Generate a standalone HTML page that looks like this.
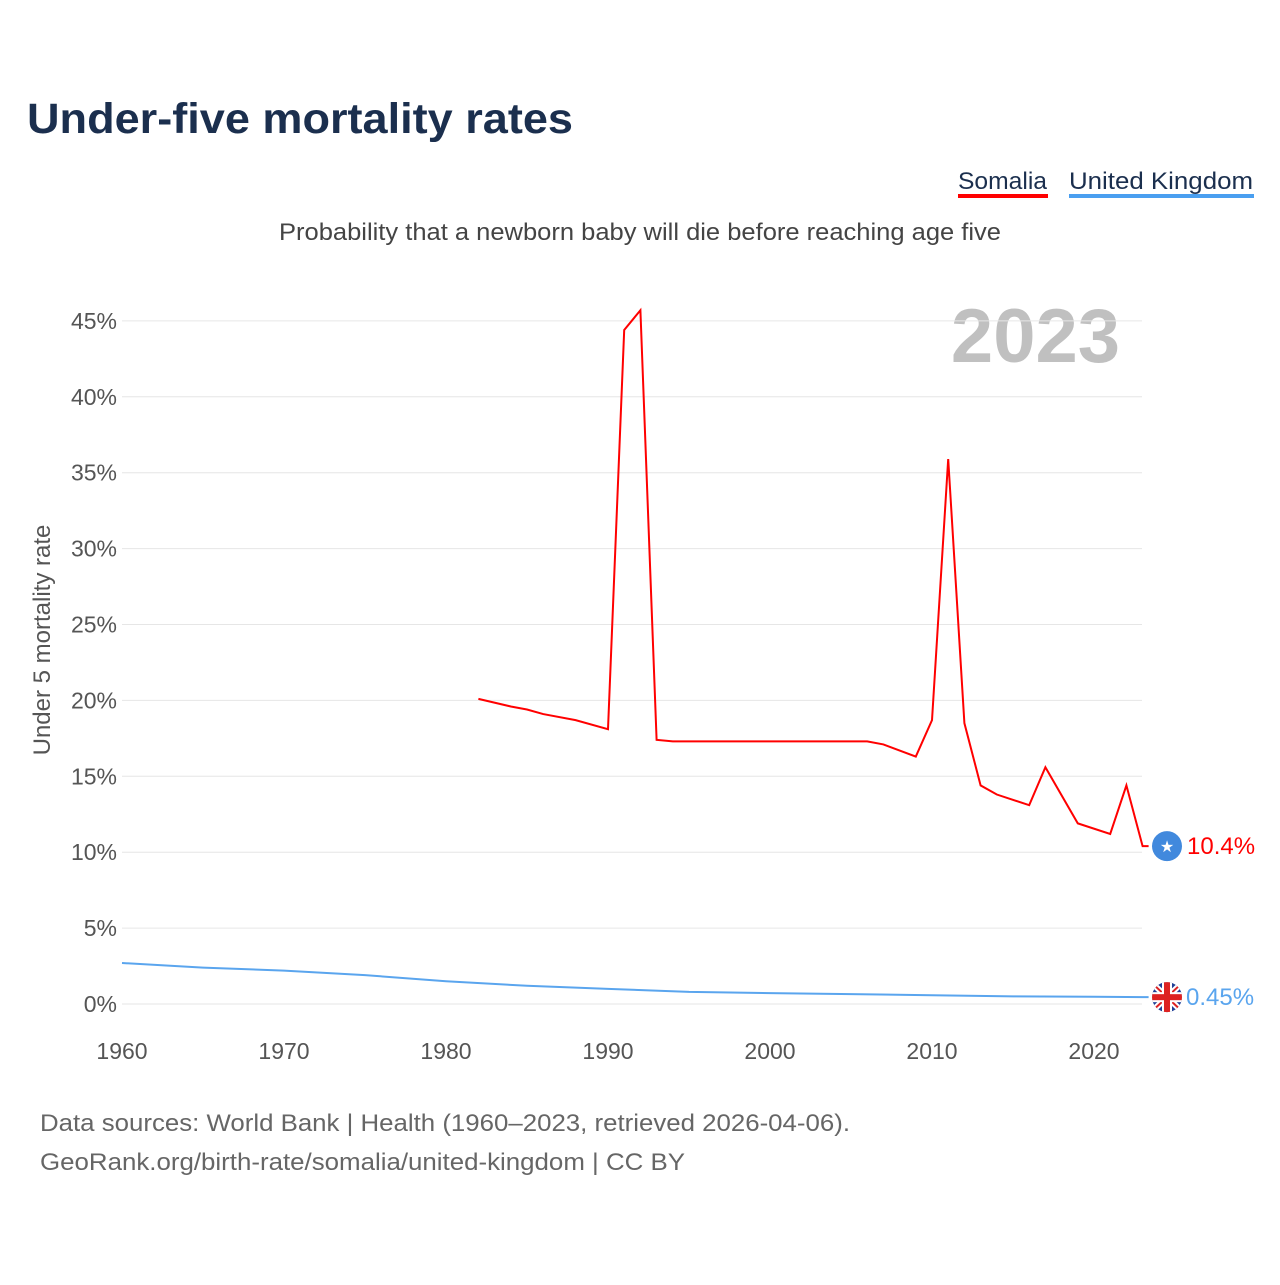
<!DOCTYPE html>
<html><head><meta charset="utf-8"><style>
body{margin:0;background:#fff;width:1280px;height:1280px;overflow:hidden;font-family:"Liberation Sans",sans-serif}
</style></head><body>
<svg id="chart" width="1280" height="1280" xmlns="http://www.w3.org/2000/svg" font-family="Liberation Sans, sans-serif">
<text x="27" y="133" font-size="43" font-weight="bold" fill="#1b2f4e" textLength="546" lengthAdjust="spacingAndGlyphs">Under-five mortality rates</text>
<g>
<text x="958" y="189" font-size="24" fill="#1b2f4e" textLength="89" lengthAdjust="spacingAndGlyphs">Somalia</text>
<rect x="958" y="194" width="90" height="4" fill="#ff0000"/>
<text x="1069" y="189" font-size="24" fill="#1b2f4e" textLength="184" lengthAdjust="spacingAndGlyphs">United Kingdom</text>
<rect x="1069" y="194" width="185" height="4" fill="#4a9ff0"/>
</g>
<text x="279" y="240" font-size="24" fill="#444" textLength="722" lengthAdjust="spacingAndGlyphs">Probability that a newborn baby will die before reaching age five</text>
<text x="1120" y="362" font-size="76" font-weight="bold" fill="#c0c0c0" text-anchor="end">2023</text>
<text transform="translate(50,640) rotate(-90)" font-size="24" fill="#555" text-anchor="middle">Under 5 mortality rate</text>
<g id="grid"></g><g id="yt"></g><g id="xt"></g><g id="lines"></g><g id="ends"></g>
<text x="40" y="1131" font-size="24" fill="#666" textLength="810" lengthAdjust="spacingAndGlyphs">Data sources: World Bank | Health (1960–2023, retrieved 2026-04-06).</text>
<text x="40" y="1170" font-size="24" fill="#666" textLength="645" lengthAdjust="spacingAndGlyphs">GeoRank.org/birth-rate/somalia/united-kingdom | CC BY</text>
</svg>
<script>
const yTicks=[0,5,10,15,20,25,30,35,40,45];
const xTicks=[1960,1970,1980,1990,2000,2010,2020];
const somYears=[1982,1984,1985,1986,1988,1990,1991,1992,1993,1994,2006,2007,2009,2010,2011,2012,2013,2014,2016,2017,2019,2021,2022,2023];
const somVals=[20.1,19.6,19.4,19.1,18.7,18.1,44.4,45.7,17.4,17.3,17.3,17.1,16.3,18.7,35.9,18.5,14.4,13.8,13.1,15.6,11.9,11.2,14.4,10.4];
const ukYears=[1960,1965,1970,1975,1980,1985,1990,1995,2000,2005,2010,2015,2020,2023];
const ukVals=[2.7,2.4,2.2,1.9,1.5,1.2,1.0,0.8,0.72,0.65,0.58,0.5,0.48,0.45];
const X=y=>122+(y-1960)*16.2, Y=v=>1004-v*15.18;
const NS="http://www.w3.org/2000/svg";
function mk(t,a,p){const e=document.createElementNS(NS,t);for(const k in a)e.setAttribute(k,a[k]);document.getElementById(p).appendChild(e);return e;}
yTicks.forEach(v=>{
 const l=mk('line',{x1:122,x2:1142,y1:Y(v),y2:Y(v),stroke:'#e6e6e6','stroke-width':1},'grid');
 
 
 const t=mk('text',{x:117,y:Y(v)+8,'font-size':23,fill:'#555','text-anchor':'end'},'yt');t.textContent=v+'%';
 
 
});
xTicks.forEach(v=>{
 const t=mk('text',{x:X(v),y:1059,'font-size':23,fill:'#555','text-anchor':'middle'},'xt');t.textContent=v;
 
 
});
function line(ys,vs,c,n){
 let d=ys.map((y,i)=>(i?'L':'M')+X(y)+','+Y(vs[i])).join('');
 d+='L'+(X(ys[ys.length-1])+6)+','+Y(vs[vs.length-1]);
 const p=mk('path',{d,fill:'none',stroke:c,'stroke-width':2},'lines');
 
 
}
line(ukYears,ukVals,'#5aa5ee','series-uk');
line(somYears,somVals,'#ff0000','series-somalia');
const sv=somVals[somVals.length-1],uv=ukVals[ukVals.length-1];
const c1=mk('circle',{cx:1167,cy:Y(sv),r:15,fill:'#4189dd'},'ends');


const st=mk('text',{x:1167,y:Y(sv)+6,'font-size':16,fill:'#fff','text-anchor':'middle'},'ends');st.textContent='★';
const t1=mk('text',{x:1187,y:Y(sv)+8,'font-size':24,fill:'#ff0000'},'ends');t1.textContent=sv+'%';


const uy=Y(uv);
const g=mk('g',{},'ends');


g.innerHTML=`<clipPath id="cc"><circle cx="1167" cy="${uy}" r="15"/></clipPath><g clip-path="url(#cc)"><rect x="1150" y="${uy-16}" width="34" height="32" fill="#1f3f96"/><path d="M1150 ${uy-16}L1184 ${uy+16}M1184 ${uy-16}L1150 ${uy+16}" stroke="#fff" stroke-width="6"/><path d="M1150 ${uy-16}L1184 ${uy+16}M1184 ${uy-16}L1150 ${uy+16}" stroke="#d22" stroke-width="2"/><rect x="1150" y="${uy-5}" width="34" height="10" fill="#fff"/><rect x="1162" y="${uy-16}" width="10" height="32" fill="#fff"/><rect x="1150" y="${uy-3}" width="34" height="6" fill="#d22"/><rect x="1164" y="${uy-16}" width="6" height="32" fill="#d22"/></g>`;
const t2=mk('text',{x:1186,y:uy+8,'font-size':24,fill:'#5aa5ee'},'ends');t2.textContent=uv+'%';


</script>
</body></html>
